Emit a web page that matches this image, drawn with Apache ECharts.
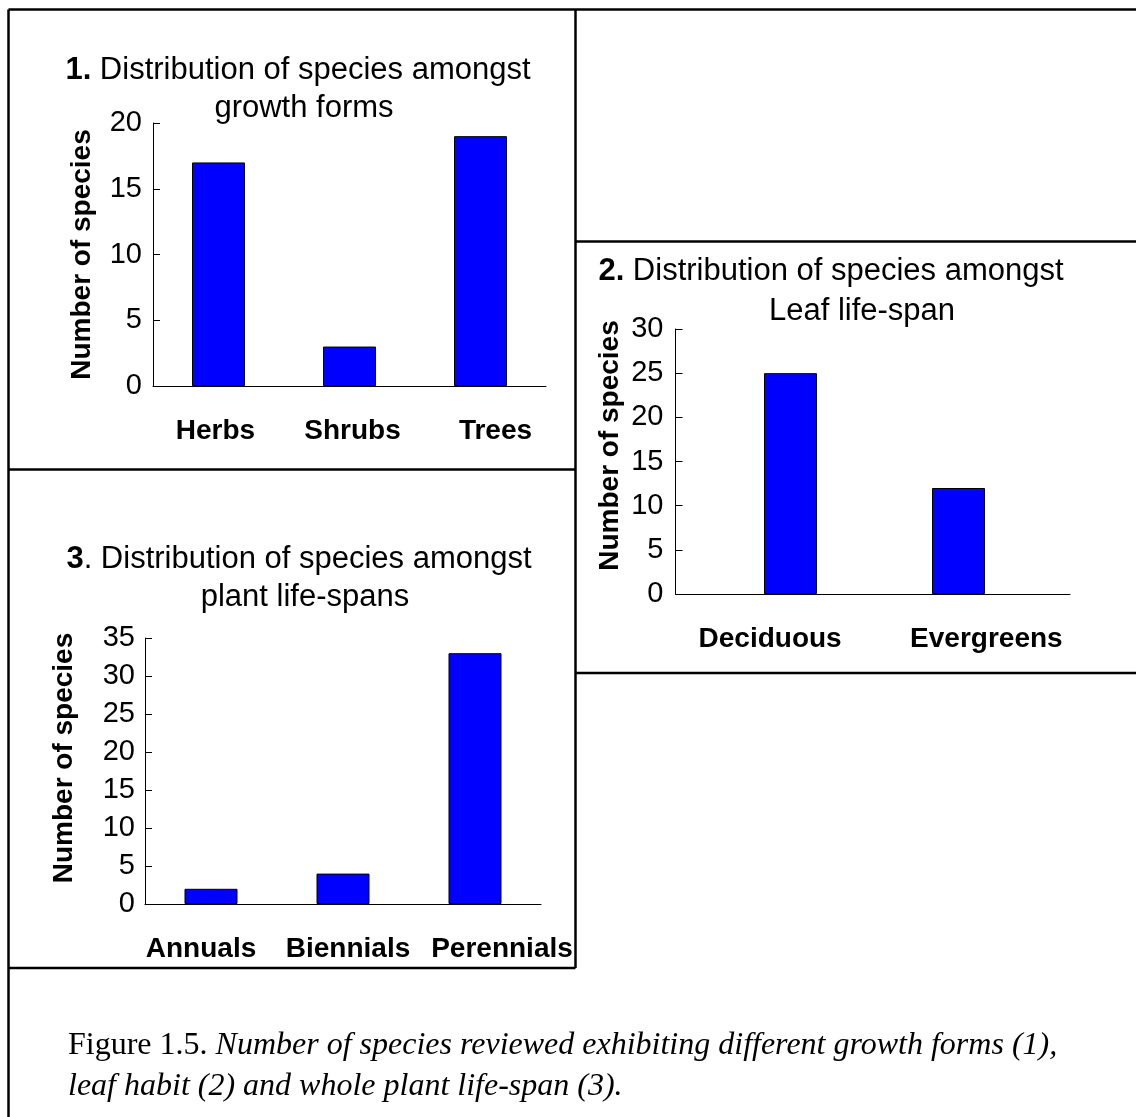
<!DOCTYPE html>
<html>
<head>
<meta charset="utf-8">
<script src="https://cdn.jsdelivr.net/npm/echarts@6/dist/echarts.min.js"></script>
<style>
    html, body { margin: 0; padding: 0; background: #fff; }
    #chart { width: 1136px; height: 1117px; }
</style>
</head>
<body>
<div id="chart"></div>
<script>
// 1. growth forms
const growthForms = ['Herbs', 'Shrubs', 'Trees'];
const growthCounts = [17, 3, 19];
// 2. leaf life-span
const leafHabits = ['Deciduous', 'Evergreens'];
const leafCounts = [25, 12];
// 3. plant life-span
const lifeSpans = ['Annuals', 'Biennials', 'Perennials'];
const lifeSpanCounts = [2, 4, 33];
// y axis tops, ticks every 5
const yMaxes = [20, 30, 35];
const yStep = 5;

const SANS = 'Arial, "Liberation Sans", sans-serif';
const SERIF = '"Times New Roman", "Liberation Serif", serif';
const BLUE = '#0000ff';

// label nudges (px) so the category names sit where Excel put them
function labelData(names, shifts) {
    return names.map(function (n, i) {
        let s = shifts[i] || 0;
        return {
            value: n,
            textStyle: { padding: s >= 0 ? [0, 0, 0, 2 * s] : [0, -2 * s, 0, 0] }
        };
    });
}

function catAxis(gridIndex, names, shifts, hidden) {
    return {
        type: 'category',
        gridIndex: gridIndex,
        data: labelData(names, shifts),
        show: !hidden,
        axisLine: { show: true, lineStyle: { color: '#000', width: 1 } },
        axisTick: { show: false },
        axisLabel: {
            interval: 0, margin: 31, color: '#000',
            fontFamily: SANS, fontSize: 28, fontWeight: 'bold'
        }
    };
}

function valAxis(gridIndex, max, margin, nameGap, nameShift, hidden) {
    return {
        type: 'value',
        gridIndex: gridIndex,
        min: 0, max: max, interval: yStep,
        show: !hidden,
        axisLine: { show: true, lineStyle: { color: '#000', width: 1 } },
        axisTick: { show: true, inside: true, length: 7, lineStyle: { color: '#000' } },
        splitLine: { show: false },
        axisLabel: { margin: margin, color: '#000', fontFamily: SANS, fontSize: 29 },
        name: 'Number of species',
        nameLocation: 'middle',
        nameGap: nameGap,
        nameTextStyle: {
            color: '#000', fontFamily: SANS, fontSize: 28, fontWeight: 'bold',
            lineHeight: 28, padding: [0, 0, 0, nameShift]
        }
    };
}

function barSeries(xi, yi, data) {
    return {
        type: 'bar',
        xAxisIndex: xi,
        yAxisIndex: yi,
        data: data,
        barWidth: 53,
        itemStyle: { color: BLUE, borderColor: '#000', borderWidth: 1 },
        silent: true
    };
}

function titleLine(text, x, y, size) {
    return {
        text: text,
        left: x, top: y,
        textAlign: 'center', textVerticalAlign: 'middle',
        padding: 0,
        textStyle: {
            color: '#000', fontFamily: SANS, fontSize: size, fontWeight: 'normal',
            rich: { b: { color: '#000', fontFamily: SANS, fontSize: size, fontWeight: 'bold' } }
        }
    };
}

function captionLine(text, x, y) {
    return {
        text: text,
        left: x, top: y,
        textAlign: 'left', textVerticalAlign: 'middle',
        padding: 0,
        textStyle: {
            color: '#000', fontFamily: SERIF, fontSize: 32, fontWeight: 'normal',
            rich: {
                r: { color: '#000', fontFamily: SERIF, fontSize: 32 },
                i: { color: '#000', fontFamily: SERIF, fontSize: 32, fontStyle: 'italic' }
            }
        }
    };
}

function frameLine(x1, y1, x2, y2) {
    return {
        type: 'line',
        shape: { x1: x1, y1: y1, x2: x2, y2: y2 },
        style: { stroke: '#000', lineWidth: 2.5 },
        silent: true
    };
}

let chart = echarts.init(document.getElementById('chart'), null, { renderer: 'canvas' });

let option = {
    backgroundColor: '#fff',
    animation: false,
    title: [
        titleLine('{b|1.} Distribution of species amongst', 298, 70, 31),
        titleLine('growth forms', 304, 108, 31),
        titleLine('{b|2.} Distribution of species amongst', 831, 271, 31),
        titleLine('Leaf life-span', 862, 311, 31),
        titleLine('{b|3}. Distribution of species amongst', 299, 559, 31),
        titleLine('plant life-spans', 305, 597, 31),
        captionLine('{r|Figure 1.5.} {i|Number of species reviewed exhibiting different growth forms (1),}', 68, 1046),
        captionLine('{i|leaf habit (2) and whole plant life-span (3).}', 68, 1087)
    ],
    grid: [
        { left: 153, top: 123, width: 393, height: 263 },
        { left: 675.5, top: 329, width: 394.5, height: 265 },
        { left: 706.5, top: 329, width: 336, height: 265 },
        { left: 145, top: 638, width: 396, height: 266 }
    ],
    xAxis: [
        catAxis(0, growthForms, [-3, 3, 15]),
        catAxis(1, leafHabits, [-4, 15]),
        catAxis(2, leafHabits, [0, 0], true),
        catAxis(3, lifeSpans, [-10, 5, 27])
    ],
    yAxis: [
        valAxis(0, yMaxes[0], 11, 57, 0),
        valAxis(1, yMaxes[1], 12, 51, 32),
        valAxis(2, yMaxes[1], 12, 51, 0, true),
        valAxis(3, yMaxes[2], 10, 67, 26)
    ],
    series: [
        barSeries(0, 0, growthCounts),
        barSeries(2, 2, leafCounts),
        barSeries(3, 3, lifeSpanCounts)
    ],
    graphic: {
        elements: [
            frameLine(8.5, 9.5, 1136, 9.5),
            frameLine(8.5, 9.5, 8.5, 1117),
            frameLine(575.5, 9.5, 575.5, 968),
            frameLine(8.5, 469.5, 575.5, 469.5),
            frameLine(8.5, 968, 575.5, 968),
            frameLine(575.5, 241.5, 1136, 241.5),
            frameLine(575.5, 673, 1136, 673)
        ]
    }
};

chart.setOption(option);
</script>
</body>
</html>
